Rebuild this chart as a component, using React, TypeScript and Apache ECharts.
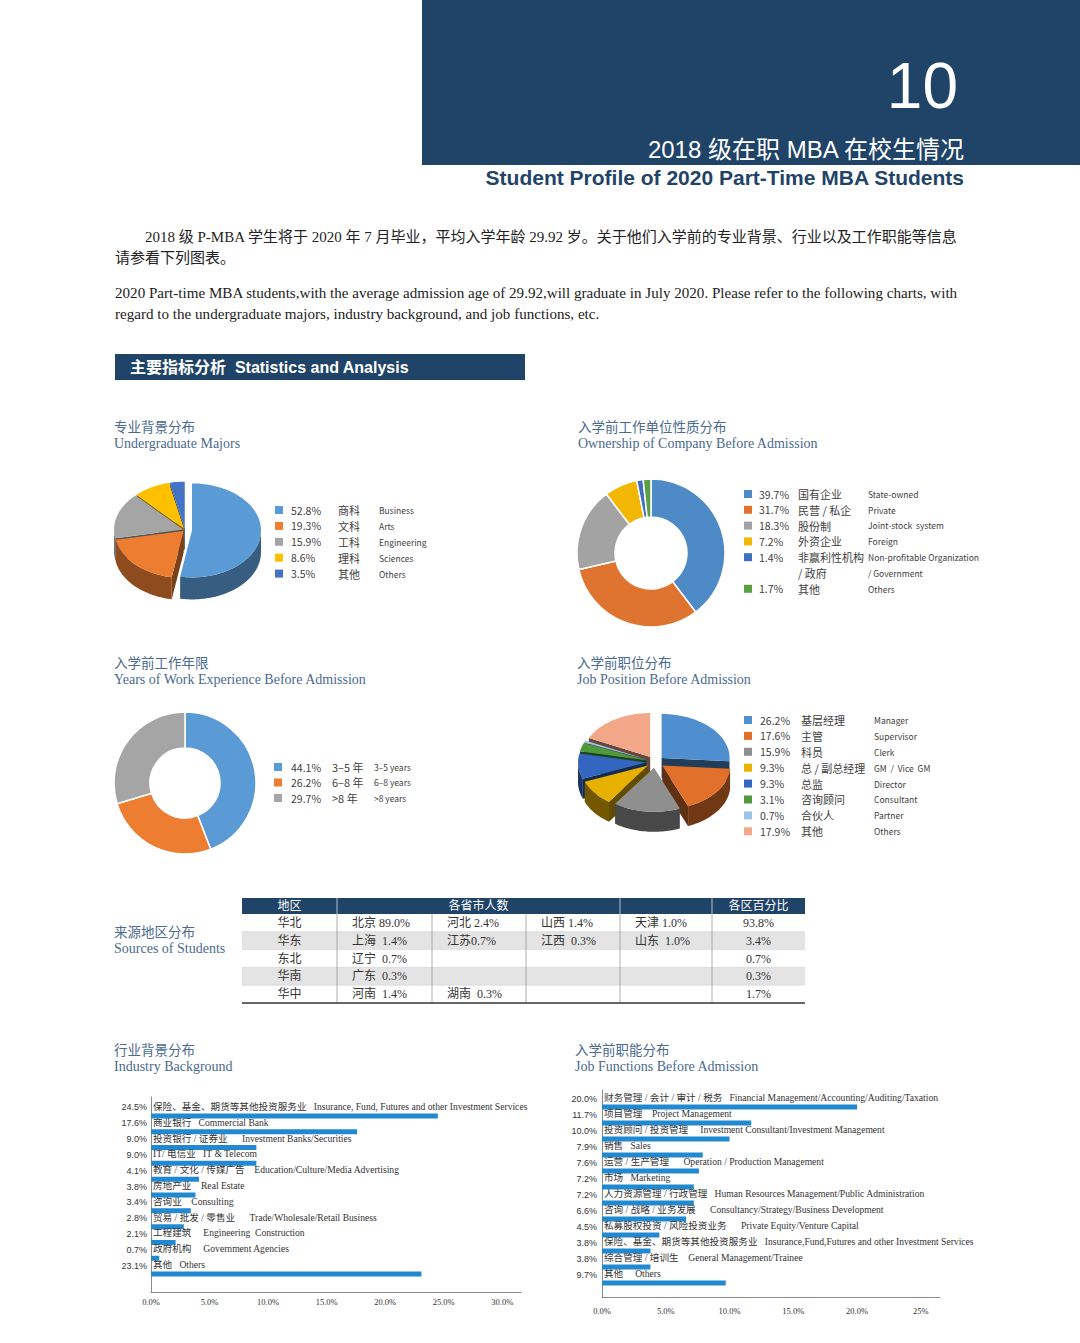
import React, { useEffect, useRef } from 'react';
import * as echarts from 'echarts';

const NAVY = '#1f4468';
const TITLE = '#4a6a8e';
const TXT = '#333333';
const SERIF = '"Liberation Serif", "Times New Roman", "Noto Sans CJK SC", serif';
const SANS = '"Liberation Sans", Arial, "Noto Sans CJK SC", sans-serif';
const CJK = '"Noto Sans CJK SC", "Noto Sans", sans-serif';
const BAR = '#2189cf';

// ---- Undergraduate majors (3D pie) ----
const majorValues = [52.8, 19.3, 15.9, 8.6, 3.5];
const majorPct = ['52.8%', '19.3%', '15.9%', '8.6%', '3.5%'];
const majorCn = ['商科', '文科', '工科', '理科', '其他'];
const majorEn = ['Business', 'Arts', 'Engineering', 'Sciences', 'Others'];
const majorColors = ['#5b9bd5', '#ed7d31', '#a5a5a5', '#ffc000', '#4472c4'];

// ---- Ownership of company (donut) ----
const ownValues = [39.7, 31.7, 18.3, 7.2, 1.4, 1.7];
const ownPct = ['39.7%', '31.7%', '18.3%', '7.2%', '1.4%', '1.7%'];
const ownCn = ['国有企业', '民营 / 私企', '股份制', '外资企业', '非赢利性机构\n/ 政府', '其他'];
const ownEn = ['State-owned', 'Private', 'Joint-stock  system', 'Foreign', 'Non-profitable Organization\n/ Government', 'Others'];
const ownColors = ['#4e8ac6', '#df7430', '#a3a3a3', '#f2b705', '#3e6fc0', '#5aa043'];

// ---- Years of work experience (donut) ----
const yearValues = [44.1, 26.2, 29.7];
const yearPct = ['44.1%', '26.2%', '29.7%'];
const yearCn = ['3–5 年', '6–8 年', '>8 年'];
const yearEn = ['3–5 years', '6–8 years', '>8 years'];
const yearColors = ['#5b9bd5', '#ed7d31', '#a5a5a5'];

// ---- Job position (3D exploded pie) ----
const posValues = [26.2, 17.6, 15.9, 9.3, 9.3, 3.1, 0.7, 17.9];
const posPct = ['26.2%', '17.6%', '15.9%', '9.3%', '9.3%', '3.1%', '0.7%', '17.9%'];
const posCn = ['基层经理', '主管', '科员', '总 / 副总经理', '总监', '咨询顾问', '合伙人', '其他'];
const posEn = ['Manager', 'Supervisor', 'Clerk', 'GM  /  Vice  GM', 'Director', 'Consultant', 'Partner', 'Others'];
const posColors = ['#4f8fd0', '#e0702a', '#8f8f8f', '#e8b000', '#3366c0', '#4e9a3a', '#9dc3e6', '#f2a888'];

// ---- Sources of students (table) ----
const regionNames = ['华北', '华东', '东北', '华南', '华中'];
const provinceCells = [
  ['北京 89.0%', '河北 2.4%', '山西 1.4%', '天津 1.0%'],
  ['上海  1.4%', '江苏0.7%', '江西  0.3%', '山东  1.0%'],
  ['辽宁  0.7%', '', '', ''],
  ['广东  0.3%', '', '', ''],
  ['河南  1.4%', '湖南  0.3%', '', ''],
];
const regionShares = ['93.8%', '3.4%', '0.7%', '0.3%', '1.7%'];
const tableHead = ['地区', '各省市人数', '各区百分比'];

// ---- Industry background (bars) ----
const indValues = [24.5, 17.6, 9.0, 9.0, 4.1, 3.8, 3.4, 2.8, 2.1, 0.7, 23.1];
const indPct = ['24.5%', '17.6%', '9.0%', '9.0%', '4.1%', '3.8%', '3.4%', '2.8%', '2.1%', '0.7%', '23.1%'];
const indLabels = [
  '保险、基金、期货等其他投资服务业   Insurance, Fund, Futures and other Investment Services',
  '商业银行   Commercial Bank',
  '投资银行 / 证券业      Investment Banks/Securities',
  'IT/ 电信业   IT & Telecom',
  '教育 / 文化 / 传媒广告    Education/Culture/Media Advertising',
  '房地产业    Real Estate',
  '咨询业    Consulting',
  '贸易 / 批发 / 零售业      Trade/Wholesale/Retail Business',
  '工程建筑     Engineering  Construction',
  '政府机构     Government Agencies',
  '其他   Others',
];
const indTicks = ['0.0%', '5.0%', '10.0%', '15.0%', '20.0%', '25.0%', '30.0%'];

// ---- Job functions (bars) ----
const jobValues = [20.0, 11.7, 10.0, 7.9, 7.6, 7.2, 7.2, 6.6, 4.5, 3.8, 3.8, 9.7];
const jobPct = ['20.0%', '11.7%', '10.0%', '7.9%', '7.6%', '7.2%', '7.2%', '6.6%', '4.5%', '3.8%', '3.8%', '9.7%'];
const jobLabels = [
  '财务管理 / 会计 / 审计 / 税务   Financial Management/Accounting/Auditing/Taxation',
  '项目管理    Project Management',
  '投资顾问 / 投资管理     Investment Consultant/Investment Management',
  '销售   Sales',
  '运营 / 生产管理      Operation / Production Management',
  '市场   Marketing',
  '人力资源管理 / 行政管理   Human Resources Management/Public Administration',
  '咨询 / 战略 / 业务发展      Consultancy/Strategy/Business Development',
  '私募股权投资 / 风险投资业务      Private Equity/Venture Capital',
  '保险、基金、期货等其他投资服务业   Insurance,Fund,Futures and other Investment Services',
  '综合管理 / 培训生    General Management/Trainee',
  '其他     Others',
];
const jobTicks = ['0.0%', '5.0%', '10.0%', '15.0%', '20.0%', '25%'];

function darken(hex: string, f: number) {
  const n = parseInt(hex.slice(1), 16);
  const r = Math.round(((n >> 16) & 255) * f);
  const g = Math.round(((n >> 8) & 255) * f);
  const b = Math.round((n & 255) * f);
  return `rgb(${r},${g},${b})`;
}

function pie3D(values: number[], colors: string[], cx: number, cy: number, rx: number, ry: number, h: number, explode: number[], sideF: number) {
  const total = values.reduce((a, b) => a + b, 0);
  const starts: number[] = [];
  let acc = 0;
  values.forEach((v) => { starts.push((acc / total) * Math.PI * 2); acc += v; });
  return {
    type: 'custom',
    coordinateSystem: 'none',
    silent: true,
    data: values.map((v) => [v]),
    renderItem: (params: any, api: any) => {
      const i = params.dataIndex;
      const v = api.value(0);
      const s = starts[i];
      const e = s + (v / total) * Math.PI * 2;
      const m = (s + e) / 2;
      const ex = explode[i];
      const ox = cx + ex * Math.sin(m);
      const oy = cy - (ex * Math.cos(m) * ry) / rx;
      const pt = (a: number, dy: number) => [ox + rx * Math.sin(a), oy - ry * Math.cos(a) + dy];
      const arc = (a0: number, a1: number, dy: number) => {
        const n = Math.max(2, Math.ceil((a1 - a0) / 0.03));
        const out: number[][] = [];
        for (let k = 0; k <= n; k++) out.push(pt(a0 + ((a1 - a0) * k) / n, dy));
        return out;
      };
      const side = darken(colors[i], sideF);
      const depth = Math.round(-Math.cos(m) * 20) + 30;
      const children: any[] = [];
      if (Math.sin(s) < -1e-6) {
        children.push({ type: 'polygon', z2: depth, shape: { points: [[ox, oy], pt(s, 0), pt(s, h), [ox, oy + h]] }, style: { fill: darken(colors[i], sideF * 0.85) } });
      }
      if (Math.sin(e) > 1e-6) {
        children.push({ type: 'polygon', z2: depth, shape: { points: [[ox, oy], pt(e, 0), pt(e, h), [ox, oy + h]] }, style: { fill: darken(colors[i], sideF * 0.85) } });
      }
      const a0 = Math.max(s, Math.PI / 2);
      const a1 = Math.min(e, Math.PI * 1.5);
      if (a1 > a0) {
        children.push({ type: 'polygon', z2: depth + 1, shape: { points: arc(a0, a1, 0).concat(arc(a0, a1, h).reverse()) }, style: { fill: side } });
      }
      children.push({ type: 'polygon', z2: 100, shape: { points: [[ox, oy]].concat(arc(s, e, 0)) }, style: { fill: colors[i] } });
      return { type: 'group', children };
    },
  };
}

function T(x: number, y: number, text: string, font: string, fill: string, align = 'left', vAlign = 'middle', extra: any = {}) {
  return {
    type: 'text', x, y, silent: true,
    style: { text, font, fill, align, verticalAlign: vAlign, textAlign: align, textVerticalAlign: vAlign, ...extra },
  };
}

function legendEls(xs: number[], y0: number, dy: number, pct: string[], cn: string[], en: string[], colors: string[]) {
  const els: any[] = [];
  let row = 0;
  pct.forEach((p, i) => {
    const y = y0 + row * dy;
    els.push({ type: 'rect', silent: true, shape: { x: xs[0], y: y - 4, width: 8, height: 8 }, style: { fill: colors[i] } });
    els.push(T(xs[1], y, p, `10.5px ${CJK}`, '#404040'));
    els.push(T(xs[2], y - 8, cn[i], `11px ${CJK}`, '#404040', 'left', 'top', { lineHeight: dy }));
    els.push(T(xs[3], y - 8, en[i], `8.5px ${CJK}`, '#404040', 'left', 'top', { lineHeight: dy }));
    row += Math.max(cn[i].split('\n').length, en[i].split('\n').length);
  });
  return els;
}

function titleEls(x: number, y: number, cn: string, en: string) {
  return [T(x, y, cn, `13.5px ${CJK}`, TITLE), T(x, y + 17, en, `14px ${SERIF}`, TITLE)];
}

function tableEls() {
  const cols = [242, 337, 432, 526, 620, 712, 805];
  const headTop = 898, headH = 16, rowH = 17.8;
  const bodyTop = headTop + headH;
  const els: any[] = [];
  els.push({ type: 'rect', silent: true, shape: { x: cols[0], y: headTop, width: cols[6] - cols[0], height: headH }, style: { fill: NAVY } });
  [cols[1], cols[4], cols[5]].forEach((x) => els.push({ type: 'line', silent: true, shape: { x1: x, y1: headTop, x2: x, y2: headTop + headH }, style: { stroke: '#d8dfe8', lineWidth: 0.8 } }));
  const hy = headTop + headH / 2;
  els.push(T((cols[0] + cols[1]) / 2, hy, tableHead[0], `12px ${SERIF}`, '#fff', 'center'));
  els.push(T((cols[1] + cols[4]) / 2, hy, tableHead[1], `12px ${SERIF}`, '#fff', 'center'));
  els.push(T((cols[5] + cols[6]) / 2, hy, tableHead[2], `12px ${SERIF}`, '#fff', 'center'));
  regionNames.forEach((r, i) => {
    const y = bodyTop + i * rowH;
    els.push({ type: 'rect', silent: true, shape: { x: cols[0], y, width: cols[6] - cols[0], height: rowH }, style: { fill: i % 2 === 1 ? '#e4e4e4' : '#ffffff' } });
    if (i > 0) els.push({ type: 'line', silent: true, shape: { x1: cols[0], y1: y, x2: cols[6], y2: y }, style: { stroke: '#cfcfcf', lineWidth: 0.6 } });
    const cy = y + rowH / 2;
    els.push(T((cols[0] + cols[1]) / 2, cy, r, `12px ${SERIF}`, TXT, 'center'));
    provinceCells[i].forEach((c, j) => { if (c) els.push(T(cols[1 + j] + 15, cy, c, `12px ${SERIF}`, TXT)); });
    els.push(T((cols[5] + cols[6]) / 2, cy, regionShares[i], `12px ${SERIF}`, TXT, 'center'));
  });
  const bodyBottom = bodyTop + regionNames.length * rowH;
  cols.slice(1, 6).forEach((x) => els.push({ type: 'line', silent: true, shape: { x1: x, y1: bodyTop, x2: x, y2: bodyBottom }, style: { stroke: '#9a9a9a', lineWidth: 0.8 } }));
  els.push({ type: 'line', silent: true, shape: { x1: cols[0], y1: bodyBottom, x2: cols[6], y2: bodyBottom }, style: { stroke: '#333', lineWidth: 1.3 } });
  return els;
}

function barSeries(values: number[], labels: string[], axisIdx: number) {
  return {
    type: 'bar', xAxisIndex: axisIdx, yAxisIndex: axisIdx, silent: true,
    barWidth: 5,
    itemStyle: { color: BAR },
    data: values,
    label: {
      show: true, position: [2, -7], align: 'left', verticalAlign: 'middle',
      formatter: (p: any) => labels[p.dataIndex],
      fontSize: 9.6, fontFamily: SERIF, color: TXT,
    },
  };
}

function buildOption() {
  const graphics: any[] = [];
  // header
  graphics.push({ type: 'rect', silent: true, shape: { x: 422, y: 0, width: 658, height: 165 }, style: { fill: NAVY } });
  graphics.push(T(958, 86, '10', `64px ${SANS}`, '#ffffff', 'right'));
  graphics.push(T(964, 149, '2018 级在职 MBA 在校生情况', `24px ${SANS}`, '#ffffff', 'right'));
  graphics.push(T(964, 177, 'Student Profile of 2020 Part-Time MBA Students', `bold 21px ${SANS}`, NAVY, 'right'));
  // intro
  graphics.push(T(145, 237, '2018 级 P-MBA 学生将于 2020 年 7 月毕业，平均入学年龄 29.92 岁。关于他们入学前的专业背景、行业以及工作职能等信息', `15px ${SERIF}`, '#222'));
  graphics.push(T(115, 258, '请参看下列图表。', `15px ${SERIF}`, '#222'));
  graphics.push(T(115, 293, '2020 Part-time MBA students,with the average admission age of 29.92,will graduate in July 2020. Please refer to the following charts, with', `15.1px ${SERIF}`, '#222'));
  graphics.push(T(115, 314, 'regard to the undergraduate majors, industry background, and job functions, etc.', `15.1px ${SERIF}`, '#222'));
  // section bar
  graphics.push({ type: 'rect', silent: true, shape: { x: 115, y: 354, width: 410, height: 26 }, style: { fill: NAVY } });
  graphics.push(T(130, 367, '主要指标分析  Statistics and Analysis', `bold 16px ${SANS}`, '#ffffff'));
  // titles
  graphics.push(...titleEls(114, 426, '专业背景分布', 'Undergraduate Majors'));
  graphics.push(...titleEls(578, 426, '入学前工作单位性质分布', 'Ownership of Company Before Admission'));
  graphics.push(...titleEls(114, 662, '入学前工作年限', 'Years of Work Experience Before Admission'));
  graphics.push(...titleEls(577, 662, '入学前职位分布', 'Job Position Before Admission'));
  graphics.push(...titleEls(114, 931, '来源地区分布', 'Sources of Students'));
  graphics.push(...titleEls(114, 1049, '行业背景分布', 'Industry Background'));
  graphics.push(...titleEls(575, 1049, '入学前职能分布', 'Job Functions Before Admission'));
  // legends
  graphics.push(...legendEls([275, 291, 338, 379], 510, 15.9, majorPct, majorCn, majorEn, majorColors));
  graphics.push(...legendEls([744, 759, 798, 868], 494, 15.8, ownPct, ownCn, ownEn, ownColors));
  graphics.push(...legendEls([274, 291, 332, 374], 767, 15.5, yearPct, yearCn, yearEn, yearColors));
  graphics.push(...legendEls([744, 760, 801, 874], 720, 15.9, posPct, posCn, posEn, posColors));
  // table
  graphics.push(...tableEls());

  const hiddenX = (grid: number, max: number) => ({ type: 'value', gridIndex: grid, min: 0, max, show: false });
  const catY = (grid: number, names: string[], pct: string[], margin: number) => ({
    type: 'category', gridIndex: grid, inverse: true, data: names,
    axisLine: { show: false }, axisTick: { show: false },
    axisLabel: {
      margin,
      formatter: (_v: any, i: number) => `{p|${pct[i]}}`,
      rich: { p: { fontSize: 9, fontFamily: SANS, color: TXT, padding: [0, 0, 17, 0] } },
    },
  });
  const axisX = (grid: number, max: number, ticks: string[], margin: number) => ({
    type: 'value', gridIndex: grid, min: 0, max, interval: 5,
    axisLine: { show: true, lineStyle: { color: '#8a8a8a', width: 1 } },
    axisTick: { show: false }, splitLine: { show: false },
    axisLabel: {
      margin, fontSize: 8.5, fontFamily: SERIF, color: TXT,
      formatter: (v: number) => (Math.abs(v / 5 - Math.round(v / 5)) < 1e-6 ? ticks[Math.round(v / 5)] || '' : ''),
    },
  });
  const axisY = (grid: number) => ({
    type: 'value', gridIndex: grid, min: 0, max: 1,
    axisLine: { show: true, lineStyle: { color: '#8a8a8a', width: 1 } },
    axisTick: { show: false }, splitLine: { show: false }, axisLabel: { show: false },
  });

  const indMax = 31.6;
  const jobMax = 26.5;

  return {
    animation: false,
    backgroundColor: '#ffffff',
    grid: [
      { left: 151, top: 1108, width: 370, height: 174 },
      { left: 151, top: 1097, width: 370, height: 195 },
      { left: 602, top: 1099, width: 338, height: 192 },
      { left: 602, top: 1090, width: 338, height: 207 },
    ],
    xAxis: [hiddenX(0, indMax), axisX(1, indMax, indTicks, 6), hiddenX(2, jobMax), axisX(3, jobMax, jobTicks, 10)],
    yAxis: [catY(0, indLabels, indPct, 4), axisY(1), catY(2, jobLabels, jobPct, 5), axisY(3)],
    graphic: { elements: graphics },
    series: [
      pie3D(majorValues, majorColors, 185, 530, 69, 47, 22, [7, 2, 2, 2, 2], 0.6),
      {
        type: 'pie', silent: true, center: [651, 553], radius: [36, 74], startAngle: 90, clockwise: true,
        label: { show: false }, labelLine: { show: false },
        itemStyle: { borderColor: '#ffffff', borderWidth: 1.5 },
        data: ownValues.map((v, i) => ({ value: v, name: ownCn[i], itemStyle: { color: ownColors[i] } })),
      },
      {
        type: 'pie', silent: true, center: [185, 783], radius: [35, 71], startAngle: 90, clockwise: true,
        label: { show: false }, labelLine: { show: false },
        itemStyle: { borderColor: '#ffffff', borderWidth: 1.5 },
        data: yearValues.map((v, i) => ({ value: v, name: yearCn[i], itemStyle: { color: yearColors[i] } })),
      },
      pie3D(posValues, posColors, 655, 762, 68, 44, 20, posValues.map(() => 9), 0.5),
      barSeries(indValues, indLabels, 0),
      barSeries(jobValues, jobLabels, 2),
    ],
  };
}

export default function App() {
  const ref = useRef<HTMLDivElement>(null);
  useEffect(() => {
    if (!ref.current) return;
    const chart = echarts.init(ref.current, null, { renderer: 'svg', width: 1080, height: 1343 });
    chart.setOption(buildOption() as any);
    return () => chart.dispose();
  }, []);
  return <div ref={ref} style={{ position: 'absolute', left: 0, top: 0, width: 1080, height: 1343, background: '#fff' }} />;
}
